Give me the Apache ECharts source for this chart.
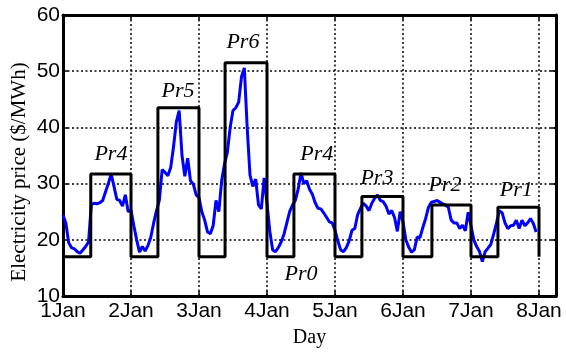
<!DOCTYPE html>
<html>
<head>
<meta charset="utf-8">
<script src="https://cdn.jsdelivr.net/npm/echarts@6/dist/echarts.min.js"></script>
<style>html,body{margin:0;padding:0;background:#fff}#c{width:566px;height:353px}</style>
</head>
<body>
<div id="c"></div>
<script>
// Day tick labels (x in hours, one tick per 24 h)
var dayLabels = ['1Jan','2Jan','3Jan','4Jan','5Jan','6Jan','7Jan','8Jan'];
var yTicks = [10,20,30,40,50,60];

// Hourly electricity price ($/MWh), 7 days x 24 hours
var price = [
  24.4,23.0,19.5,18.6,18.4,17.9,17.6,18.2,18.8,19.6,26.3,26.5,26.4,26.6,27.0,28.5,30.0,31.7,29.5,27.2,27.0,26.0,28.0,25.0,
  25.3,22.5,20.0,17.8,18.8,18.0,19.0,20.5,23.0,25.2,27.0,32.5,32.0,31.4,32.8,36.5,41.0,43.0,35.0,31.3,34.5,30.5,29.9,28.0,
  27.5,25.0,23.5,21.4,21.1,22.5,27.0,25.0,30.5,33.5,35.5,40.0,43.0,43.5,44.5,49.0,50.6,40.0,31.5,29.5,30.8,26.2,25.5,31.0,
  26.5,21.5,18.2,17.9,18.6,19.6,21.0,23.0,25.0,26.2,27.0,29.0,31.9,30.0,30.5,29.0,28.1,26.6,25.6,25.5,24.8,24.0,23.2,23.0,
  21.7,19.8,18.2,17.9,18.6,19.8,21.7,22.0,24.5,25.6,26.5,26.0,25.2,26.5,27.4,28.0,27.0,26.8,26.0,24.6,25.2,24.0,21.5,25.0,
  23.2,20.0,18.7,17.8,18.2,20.5,20.4,22.2,23.8,25.8,26.7,26.8,27.0,26.7,26.4,26.2,25.8,23.5,23.0,23.0,22.0,22.6,21.6,24.9,
  22.5,20.0,18.8,17.9,16.1,17.9,18.5,19.2,21.0,23.0,25.2,24.8,23.0,22.0,22.5,22.6,23.5,22.0,23.5,22.5,23.0,23.8,22.9,21.4
];

// Price-level step function
var lowLevel = 17.0;                                  // Pr0
var highLevels = [31.7, 43.5, 51.5, 31.7, 27.7, 26.2, 25.8]; // Pr4,Pr5,Pr6,Pr4,Pr3,Pr2,Pr1
var riseHours = [9.8, 9.5, 9.2, 9.5, 9.5, 10.2, 9.5]; // hour of day when level switches up

// Annotations
var annNames = ['Pr4','Pr5','Pr6','Pr4','Pr0','Pr3','Pr2','Pr1'];
var annX = [16.9, 40.6, 63.5, 89.6, 84.0, 110.8, 134.8, 160.0];
var annY = [35.3, 46.5, 55.2, 35.2, 13.9, 30.9, 29.7, 28.8];

var priceData = price.map(function(v,i){ return [i, v]; });
var stepData = [];
for (var d = 0; d < highLevels.length; d++) {
  var s = d * 24;
  stepData.push([s, lowLevel]);
  stepData.push([s + riseHours[d], lowLevel]);
  stepData.push([s + riseHours[d], highLevels[d]]);
  stepData.push([s + 24, highLevels[d]]);
  stepData.push([s + 24, lowLevel]);
}
var annData = annNames.map(function(n,i){ return {name:n, value:[annX[i], annY[i]]}; });

var SANS = '"Liberation Sans", Arial, Helvetica, sans-serif';
var SERIF = '"Liberation Serif", "Times New Roman", Times, serif';

var chart = echarts.init(document.getElementById('c'));
var gridStyle = {show:true, lineStyle:{color:'#000', type:[2,2.5], width:1.5}};
chart.setOption({
  animation:false,
  backgroundColor:'#fff',
  grid:{left:63, right:10, top:15, bottom:53},
  xAxis:[{
    type:'value', min:0, max:174, interval:24,
    axisLine:{show:true, onZero:false, lineStyle:{color:'#000', width:3}},
    axisTick:{show:true, inside:true, length:5, lineStyle:{color:'#000', width:1.5}},
    axisLabel:{color:'#000', fontFamily:SANS, fontSize:21, margin:5,
      formatter:function(v){ return (v % 24 === 0) ? (dayLabels[v/24] || '') : ''; }},
    splitLine:gridStyle,
    name:'Day', nameLocation:'middle', nameGap:32,
    nameTextStyle:{color:'#000', fontFamily:SERIF, fontSize:20}
  },{
    type:'value', min:0, max:174, interval:24, position:'top',
    axisLine:{show:true, onZero:false, lineStyle:{color:'#000', width:3}},
    axisTick:{show:true, inside:true, length:5, lineStyle:{color:'#000', width:1.5}},
    axisLabel:{show:false}, splitLine:{show:false}
  }],
  yAxis:[{
    type:'value', min:10, max:60, interval:10,
    axisLine:{show:true, onZero:false, lineStyle:{color:'#000', width:3}},
    axisTick:{show:true, inside:true, length:5, lineStyle:{color:'#000', width:1.5}},
    axisLabel:{color:'#000', fontFamily:SANS, fontSize:21, margin:3},
    splitLine:gridStyle
  },{
    type:'value', min:10, max:60, interval:10, position:'right',
    axisLine:{show:true, onZero:false, lineStyle:{color:'#000', width:3}},
    axisTick:{show:true, inside:true, length:5, lineStyle:{color:'#000', width:1.5}},
    axisLabel:{show:false}, splitLine:{show:false}
  }],
  graphic:[{
    type:'text', x:19, y:172, rotation:Math.PI/2,
    style:{text:'Electricity price ($/MWh)', fill:'#000', fontFamily:SERIF, fontSize:21,
      align:'center', verticalAlign:'middle'}
  }],
  series:[{
    type:'line', data:priceData, showSymbol:false, symbol:'none',
    lineStyle:{color:'#0000ff', width:3}, z:2
  },{
    type:'line', data:stepData, showSymbol:false, symbol:'none',
    lineStyle:{color:'#000', width:3}, z:3
  },{
    type:'scatter', data:annData, symbolSize:0, z:4, silent:true,
    itemStyle:{color:'#000', opacity:0},
    label:{show:true, position:'inside', formatter:'{b}', color:'#000', opacity:1,
      textBorderWidth:0, fontFamily:SERIF, fontStyle:'italic', fontSize:22}
  }]
});
</script>
</body>
</html>
